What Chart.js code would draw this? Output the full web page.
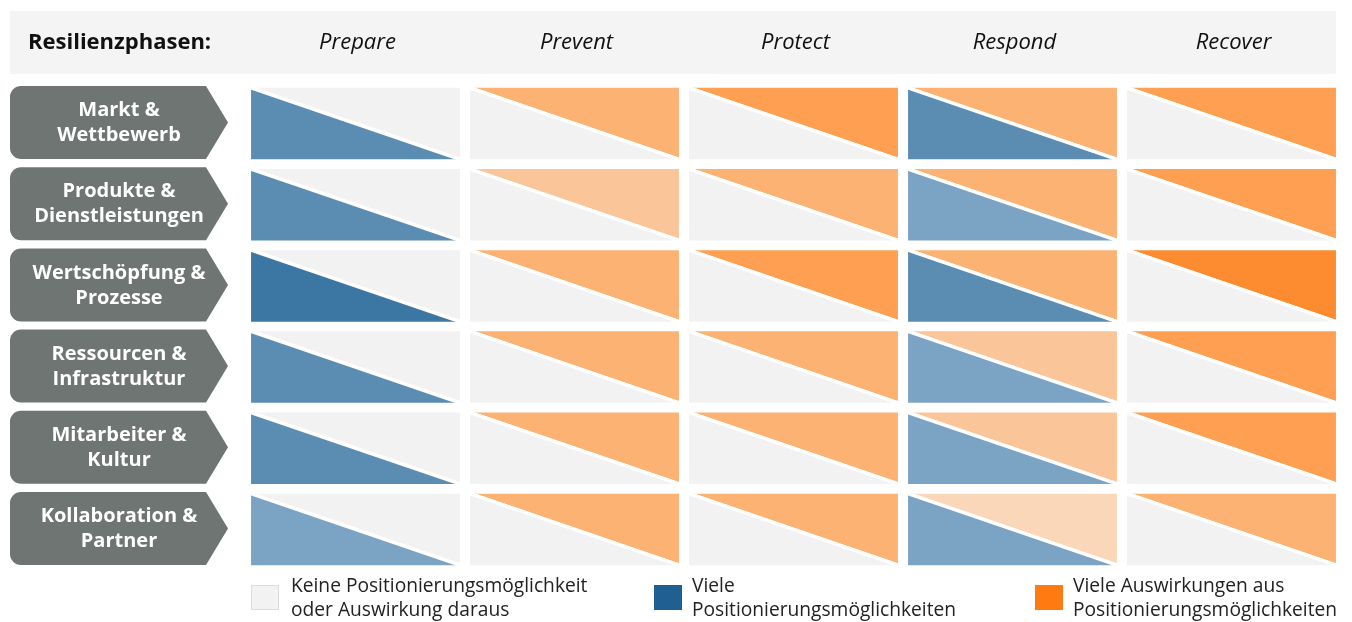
<!DOCTYPE html>
<html>
<head>
<meta charset="utf-8">
<script src="https://cdn.jsdelivr.net/npm/chart.js@4.4.0/dist/chart.umd.min.js"></script>
<style>
  html, body { margin: 0; padding: 0; background: #fff; }
  #wrap { position: relative; width: 1352px; height: 622px; overflow: hidden; }
  #matrix { position: absolute; left: 0; top: 0; }
  .leg { position: absolute; top: 573px; font-family: "Open Sans", sans-serif; font-size: 19.2px; line-height: 23.5px; color: #222; }
  .leg .box { position: absolute; left: 0; top: 12px; width: 28px; height: 25px; box-sizing: border-box; }
  .leg .txt { position: absolute; white-space: nowrap; top: 0; }
</style>
</head>
<body>
<div id="wrap">
  <canvas id="matrix" width="1352" height="622"></canvas>
  <div id="legend"></div>
</div>
<script>
    // Resilienzphasen (Spalten) und Gestaltungsfelder (Zeilen)
    const phasen = ['Prepare', 'Prevent', 'Protect', 'Respond', 'Recover'];
    const bereiche = [
        ['Markt &', 'Wettbewerb'],
        ['Produkte &', 'Dienstleistungen'],
        ['Wertschöpfung &', 'Prozesse'],
        ['Ressourcen &', 'Infrastruktur'],
        ['Mitarbeiter &', 'Kultur'],
        ['Kollaboration &', 'Partner']
    ];

    // Positionierungsmöglichkeiten (blau): 0 = keine, 1 = wenige, 2 = mittel, 3 = viele
    const positionierung = [
        [2, 0, 0, 2, 0],
        [2, 0, 0, 1, 0],
        [3, 0, 0, 2, 0],
        [2, 0, 0, 1, 0],
        [2, 0, 0, 1, 0],
        [1, 0, 0, 1, 0]
    ];

    // Auswirkungen (orange): 0 = keine ... 5 = sehr viele
    const auswirkung = [
        [0, 3, 4, 3, 4],
        [0, 2, 3, 3, 4],
        [0, 3, 4, 3, 5],
        [0, 3, 3, 2, 4],
        [0, 3, 3, 2, 4],
        [0, 3, 3, 1, 3]
    ];

    const legendeTexte = [
        ['Keine Positionierungsmöglichkeit', 'oder Auswirkung daraus'],
        ['Viele', 'Positionierungsmöglichkeiten'],
        ['Viele Auswirkungen aus', 'Positionierungsmöglichkeiten']
    ];

    const blauFarben = ['#f2f2f2', '#7ba3c3', '#5b8db3', '#3c77a3'];
    const orangeFarben = ['#f2f2f2', '#fbd7b9', '#fbc59a', '#fcb273', '#fe9f51', '#fd8b2f'];
    const legendeFarben = ['#f2f2f2', '#1f5f91', '#ff7a10'];
    const legendeX = [251, 654, 1035];

    const halbB = 0.477;  // halbe Zellbreite in Spalten
    const halbH = 0.44;   // halbe Zellhöhe in Zeilen

    // zwei Dreiecke je Zelle: links unten blau, rechts oben orange
    let datasets = [];
    bereiche.forEach(function (b, r) {
        phasen.forEach(function (p, c) {
            let diag = [
                { x: c - halbB, y: r - halbH },
                { x: c + halbB, y: r + halbH }
            ];
            datasets.push({
                label: b.join(' ') + ' / ' + p + ' Positionierung',
                data: diag,
                fill: { value: r + halbH },
                backgroundColor: blauFarben[positionierung[r][c]],
                borderColor: '#ffffff',
                borderWidth: 3.5,
                pointRadius: 0,
                tension: 0
            });
            datasets.push({
                label: b.join(' ') + ' / ' + p + ' Auswirkung',
                data: diag,
                fill: { value: r - halbH },
                backgroundColor: orangeFarben[auswirkung[r][c]],
                borderColor: '#ffffff',
                borderWidth: 3.5,
                pointRadius: 0,
                tension: 0
            });
        });
    });

    // Kopfzeile und Pfeil-Beschriftungen der Zeilen
    const rahmenPlugin = {
        id: 'rahmen',
        beforeDraw: function (chart) {
            const ctx = chart.ctx;
            const xs = chart.scales.x;
            const ys = chart.scales.y;
            ctx.save();

            // Kopfband
            ctx.fillStyle = '#f4f4f4';
            ctx.fillRect(10, 11, 1326, 63);
            ctx.fillStyle = '#111';
            ctx.textBaseline = 'middle';
            ctx.textAlign = 'left';
            ctx.font = 'bold 22px "Open Sans"';
            ctx.fillText('Resilienzphasen:', 28, 43);
            ctx.font = 'italic 22px "Open Sans"';
            ctx.textAlign = 'center';
            phasen.forEach(function (p, i) {
                ctx.fillText(p, xs.getPixelForValue(i) + 2, 43);
            });

            // Zeilen-Pfeile
            bereiche.forEach(function (b, r) {
                const yc = ys.getPixelForValue(r) - 1;
                const top = yc - 36.5, bot = yc + 36.5;
                const left = 10, rad = 11;
                ctx.beginPath();
                ctx.moveTo(left + rad, top);
                ctx.lineTo(206, top);
                ctx.lineTo(228, yc);
                ctx.lineTo(206, bot);
                ctx.lineTo(left + rad, bot);
                ctx.arcTo(left, bot, left, bot - rad, rad);
                ctx.lineTo(left, top + rad);
                ctx.arcTo(left, top, left + rad, top, rad);
                ctx.closePath();
                ctx.fillStyle = '#6e7572';
                ctx.fill();

                ctx.fillStyle = '#ffffff';
                ctx.font = 'bold 20px "Open Sans"';
                ctx.textAlign = 'center';
                ctx.fillText(b[0], 119, yc - 12);
                ctx.fillText(b[1], 119, yc + 13);
            });
            ctx.restore();
        }
    };

    let matrixChart = new Chart(document.getElementById('matrix').getContext('2d'), {
        type: 'line',
        data: { datasets: datasets },
        options: {
            responsive: false,
            animation: false,
            devicePixelRatio: 1,
            layout: { padding: { left: 246, right: 11, top: 83, bottom: 52 } },
            scales: {
                x: { type: 'linear', min: -0.5, max: 4.5, display: false },
                y: { type: 'linear', min: -0.5, max: 5.5, reverse: true, display: false }
            },
            plugins: {
                legend: { display: false },
                tooltip: { enabled: false }
            }
        },
        plugins: [rahmenPlugin]
    });

    // Legende als HTML
    const legendDiv = document.getElementById('legend');
    legendeTexte.forEach(function (t, i) {
        let item = document.createElement('div');
        item.className = 'leg';
        item.style.left = legendeX[i] + 'px';
        let box = document.createElement('div');
        box.className = 'box';
        box.style.background = legendeFarben[i];
        if (i === 0) box.style.border = '1px solid #dcdcdc';
        let txt = document.createElement('div');
        txt.className = 'txt';
        txt.style.left = (i === 0 ? 40 : 38) + 'px';
        txt.innerHTML = t[0] + '<br>' + t[1];
        item.appendChild(box);
        item.appendChild(txt);
        legendDiv.appendChild(item);
    });
</script>
</body>
</html>
